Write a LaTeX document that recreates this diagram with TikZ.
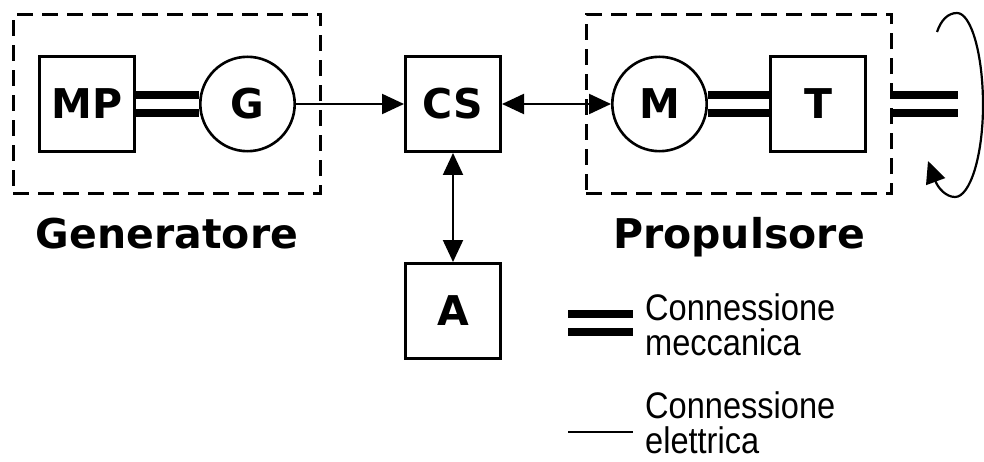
\documentclass[tikz,border=0pt]{standalone}
\usepackage{fontspec}
\setmainfont{Liberation Sans}[FakeStretch=0.88]
\newfontfamily\lblfont{DejaVu Sans}
\usetikzlibrary{arrows.meta, positioning, fit}
\tikzset{
  unitbox/.style={rectangle, draw, line width=2.6pt, minimum size=95.4pt,
    inner sep=0pt, font=\lblfont\bfseries\fontsize{41}{41}\selectfont},
  machine/.style={circle, draw, line width=2.6pt, minimum size=94.4pt,
    inner sep=0pt, font=\lblfont\bfseries\fontsize{41}{41}\selectfont},
  frame/.style={draw, dash pattern=on 16pt off 9pt, line width=2.6pt,
    inner xsep=24.7pt, inner ysep=40.7pt},
  shaft/.style={double, double distance=10.5pt, line width=7.5pt},
  wire/.style={line width=2pt},
  arrow/.style={-{Triangle[length=22pt,width=20pt]}, line width=2.2pt},
  biarrow/.style={{Triangle[length=22pt,width=20pt]}-{Triangle[length=22pt,width=20pt]}, line width=2.2pt},
  grouplabel/.style={font=\lblfont\bfseries\fontsize{41}{41}\selectfont,
    anchor=base, inner sep=0pt},
  legendtext/.style={font=\fontsize{37}{35}\selectfont, align=left,
    anchor=west, inner sep=0pt}
}
\begin{document}
\begin{tikzpicture}[x=1pt, y=-1pt]
  \useasboundingbox (0,0) rectangle (984,462);
  % blocks
  \node[unitbox] (mp) at (87,104) {MP};
  \node[machine, right=63pt of mp] (g) {G};
  \node[unitbox, right=108pt of g] (cs) {CS};
  \node[machine, right=109pt of cs] (m) {M};
  \node[unitbox, right=61pt of m] (t) {T};
  \node[unitbox, below=109pt of cs] (a) {A};
  % groups
  \node[frame, fit=(mp)(g)] (gen) {};
  \node[frame, fit=(m)(t)] (prop) {};
  \node[grouplabel] (genlabel) at ([yshift=-53pt]gen.south) {Generatore};
  \node[grouplabel] (proplabel) at ([yshift=-53pt]prop.south) {Propulsore};

  \draw[shaft] (mp) -- (g);
  \draw[arrow] (g) -- (cs);
  \draw[biarrow] (cs) -- (m);
  \draw[biarrow] (cs) -- (a);
  \draw[shaft] (m) -- (t);
  \coordinate (shaftend) at (958,104);
  \draw[shaft] (prop.east) -- (shaftend);
  % rotation of the shaft
  \coordinate (rotstart) at (937,32);
  \coordinate (rotend) at (928,161);
  \draw[arrow] (rotstart) .. controls (941,20) and (948,13) .. (957,13)
    .. controls (971,13) and (983,54) .. (983,105)
    .. controls (983,156) and (970,197) .. (955,197)
    .. controls (946,197) and (938,188) .. (rotend);

  % legend
  \coordinate (mechA) at (568,323);
  \coordinate (mechB) at (633,323);
  \draw[shaft] (mechA) -- (mechB);
  \node[legendtext] (mechtext) at (645,325) {Connessione\\meccanica};
  \coordinate (elecA) at (568,432);
  \coordinate (elecB) at (633,432);
  \draw[wire] (elecA) -- (elecB);
  \node[legendtext] (electext) at (645,423) {Connessione\\elettrica};
\end{tikzpicture}
\end{document}
